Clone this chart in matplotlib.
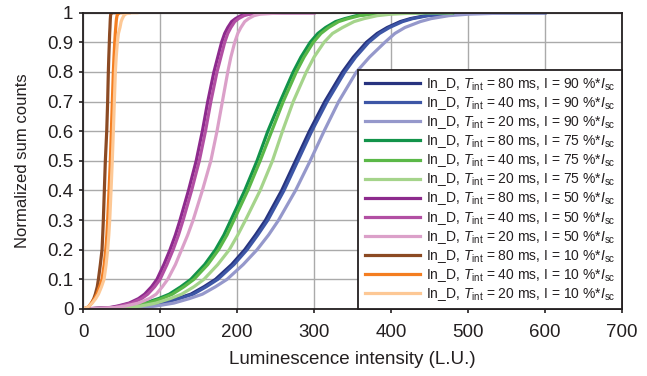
import matplotlib
matplotlib.use('Agg')
import matplotlib.pyplot as plt

plt.rcParams['font.family'] = ['Liberation Sans', 'DejaVu Sans']
plt.rcParams['mathtext.fontset'] = 'custom'
plt.rcParams['mathtext.rm'] = 'Liberation Sans'
plt.rcParams['mathtext.it'] = 'Liberation Sans:italic'

# ── Data ──────────────────────────────────────────────────────────────────────
# cumulative levels shared by every curve; x values are the intensities where
# each curve crosses that level, the last entry is where the flat top ends
levels = [0, 0.005, 0.01, 0.02, 0.035, 0.05, 0.075, 0.1, 0.15, 0.2, 0.25, 0.3,
          0.4, 0.5, 0.6, 0.7, 0.8, 0.85, 0.9, 0.93, 0.95, 0.97, 0.98, 0.99,
          0.995, 1.0, 1.0]

x_90_80 = [0, 65, 80, 100, 122, 140, 157, 172, 193, 210, 224, 237, 258, 276, 294,
           314, 337, 351, 368, 382, 395, 412, 425, 445, 470, 525, 600]
x_90_40 = [0, 68, 83, 103, 125, 143, 160, 175, 196, 213, 227, 240, 261, 279, 297,
           317, 340, 354, 371, 385, 398, 415, 428, 448, 473, 530, 600]
x_90_20 = [0, 78, 95, 118, 138, 155, 172, 187, 208, 226, 241, 254, 276, 295, 313,
           332, 355, 372, 392, 405, 418, 438, 452, 475, 500, 560, 600]
x_75_80 = [0, 48, 60, 80, 98, 112, 127, 140, 158, 172, 183, 192, 210, 226, 240,
           256, 273, 283, 295, 305, 315, 328, 340, 355, 370, 410, 480]
x_75_40 = [0, 52, 63, 84, 102, 116, 131, 144, 162, 176, 187, 196, 214, 230, 245,
           260, 277, 287, 299, 309, 319, 332, 344, 359, 375, 420, 480]
x_75_20 = [0, 58, 75, 95, 113, 128, 144, 157, 175, 190, 201, 211, 230, 246, 259,
           273, 290, 300, 313, 324, 337, 352, 365, 382, 400, 440, 478]
x_50_80 = [0, 35, 45, 60, 72, 80, 89, 96, 105, 113, 120, 126, 137, 147, 155,
           162, 170, 175, 180, 184, 188, 193, 198, 205, 212, 240, 300]
x_50_40 = [0, 38, 48, 63, 76, 84, 93, 100, 109, 117, 124, 130, 141, 151, 159,
           166, 174, 179, 184, 188, 192, 197, 202, 209, 216, 245, 300]
x_50_20 = [0, 42, 55, 72, 86, 95, 103, 110, 120, 128, 136, 143, 155, 166, 174,
           181, 188, 192, 197, 201, 205, 210, 215, 222, 230, 260, 300]
x_10_80 = [0, 6, 8, 11, 14, 16, 18.5, 20, 22.5, 24.7, 25.6, 26.4, 27.7, 29, 30.8,
           32, 32.9, 33.5, 34.2, 34.6, 35, 35.3, 35.5, 35.8, 36, 37, 45]
x_10_40 = [0, 6, 8, 11, 15, 18, 21.5, 24.7, 27.5, 29.5, 31, 32, 33.8, 35.5, 36.8,
           38.1, 39.4, 40.2, 41.2, 41.9, 42.5, 43.1, 43.5, 44.2, 45, 48, 60]
x_10_20 = [0, 5, 8, 12, 16.5, 20, 24, 27.3, 30, 32, 33.5, 34.7, 36.4, 38, 39.4,
           40.7, 42, 43.1, 44.6, 46, 48, 49.5, 51, 53, 55, 60, 70]

t_int = [80, 40, 20] * 4
current = [90] * 3 + [75] * 3 + [50] * 3 + [10] * 3
curves = [x_90_80, x_90_40, x_90_20, x_75_80, x_75_40, x_75_20,
          x_50_80, x_50_40, x_50_20, x_10_80, x_10_40, x_10_20]

colors = ['#27337f', '#3d56a6', '#9598cb',
          '#12934a', '#5bb848', '#a5d48b',
          '#8d2a8d', '#b24fa3', '#dba0c9',
          '#8c4a23', '#f47e21', '#fdc895']
INK = '#231f20'

# ── Figure ────────────────────────────────────────────────────────────────────
fig = plt.figure(figsize=(6.47, 3.76), dpi=100)
ax = fig.add_axes([0.1283, 0.1782, 0.8331, 0.788])

for xs, c, t, cur in zip(curves, colors, t_int, current):
    ax.plot(xs, levels, color=c, lw=2.3, solid_joinstyle='round',
            label=rf'In_D, $T_{{\rm int}}$ = {t} ms, I = {cur} %*$I_{{\rm sc}}$')

ax.set_xlim(0, 700)
ax.set_ylim(0, 1)
ax.set_xticks(range(0, 701, 100))
yt = [i / 10 for i in range(11)]
ax.set_yticks(yt)
ax.set_yticklabels(['0'] + [f'{v:g}' for v in yt[1:-1]] + ['1'])
ax.grid(True, color='#aaaaaa', lw=1.0)
ax.set_axisbelow(True)
for s in ax.spines.values():
    s.set_color(INK)
    s.set_linewidth(1.3)
ax.tick_params(direction='out', length=3, width=1.2, color=INK,
               labelsize=13.5, labelcolor=INK)
ax.tick_params(axis='x', pad=8)
ax.tick_params(axis='y', pad=4)

ax.set_xlabel('Luminescence intensity (L.U.)', fontsize=13.5, color=INK, labelpad=7)
ax.set_ylabel('Normalized sum counts', fontsize=12, color=INK, labelpad=12)

leg = ax.legend(loc='lower right', fontsize=10, frameon=True, fancybox=False,
                edgecolor=INK, framealpha=1, borderaxespad=0,
                handlelength=4.0, handletextpad=0.45, labelspacing=0.15,
                borderpad=0.45)
leg.get_frame().set_linewidth(1.3)
for txt in leg.get_texts():
    txt.set_color(INK)

fig.savefig('out.png', dpi=100)
